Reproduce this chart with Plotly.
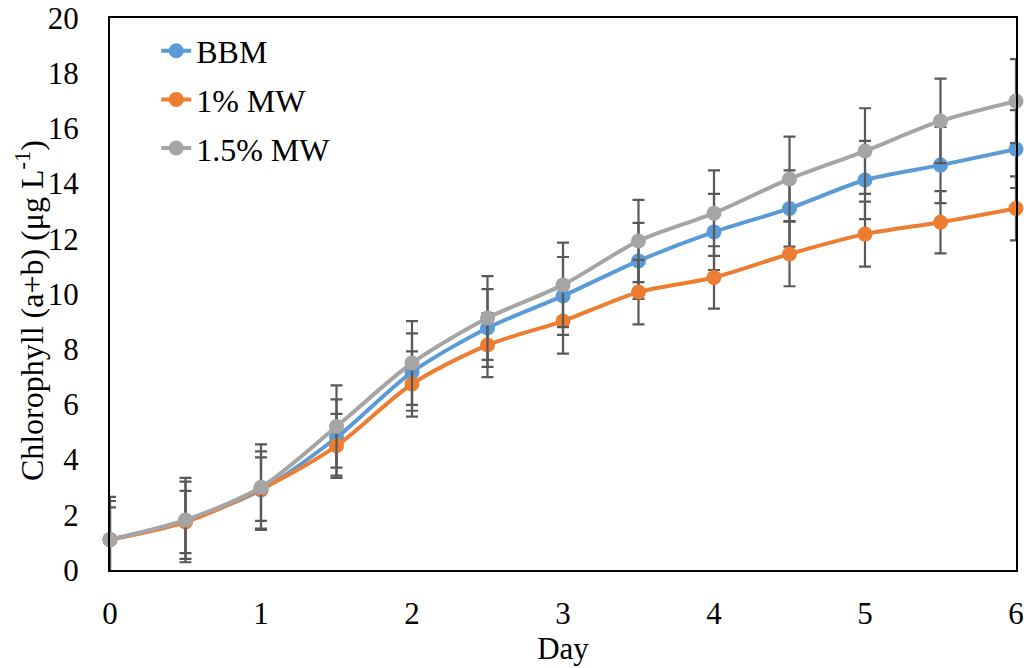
import plotly.graph_objects as go

days = [0, 0.5, 1, 1.5, 2, 2.5, 3, 3.5, 4, 4.5, 5, 5.5, 6]
bbm = [1.1, 1.8, 2.9, 4.8, 7.17, 8.77, 9.93, 11.2, 12.25, 13.1, 14.13, 14.67, 15.25]
mw1 = [1.1, 1.74, 2.93, 4.5, 6.74, 8.15, 9.02, 10.07, 10.6, 11.45, 12.17, 12.6, 13.1]
mw15 = [1.1, 1.81, 3.0, 5.2, 7.5, 9.13, 10.33, 11.92, 12.93, 14.17, 15.18, 16.27, 16.99]
err_bbm = [1.4, 1.4, 1.4, 1.38, 1.4, 1.41, 1.41, 1.38, 1.38, 1.38, 1.42, 1.38, 1.41]
err_mw1 = [1.17, 1.13, 1.15, 1.16, 1.18, 1.16, 1.18, 1.17, 1.13, 1.17, 1.18, 1.13, 1.16]
err_mw15 = [1.55, 1.53, 1.55, 1.49, 1.52, 1.52, 1.53, 1.49, 1.55, 1.53, 1.55, 1.53, 1.52]

names = ["BBM", "1% MW", "1.5% MW"]
colors = ["#5B9BD5", "#ED7D31", "#A5A5A5"]
series = [bbm, mw1, mw15]
errors = [err_bbm, err_mw1, err_mw15]
y_title = "Chlorophyll (a+b) (μg L<sup>-1</sup>)"
x_title = "Day"

FONT = "Liberation Serif, Times New Roman, serif"
fig = go.Figure()
for i, (n, c, s, e) in enumerate(zip(names, colors, series, errors)):
    fig.add_trace(go.Scatter(
        x=days, y=s, name=n, mode="lines+markers",
        line=dict(color=c, width=4, shape="spline", smoothing=0.8),
        marker=dict(color=c, size=15, symbol="circle"),
        error_y=dict(type="data", array=e, visible=True, color="#595959", thickness=2.2, width=6),
        legendgroup=f"g{i}", cliponaxis=False,
    ))

fig.update_layout(
    width=1026, height=668,
    margin=dict(l=110, r=10, t=18, b=98),
    plot_bgcolor="white", paper_bgcolor="white",
    font=dict(family=FONT, size=31, color="black"),
    showlegend=True,
    legend=dict(x=0.051, y=0.99, xanchor="left", yanchor="top", bgcolor="rgba(0,0,0,0)",
                font=dict(family=FONT, size=32), tracegroupgap=4),
    xaxis=dict(range=[0, 6], tickvals=[0, 1, 2, 3, 4, 5, 6], showgrid=False, zeroline=False,
               showline=True, linecolor="black", linewidth=2, mirror=True, ticks="",
               ticklabelstandoff=15, automargin=False,
               title=dict(text=x_title, font=dict(family=FONT, size=31), standoff=6)),
    yaxis=dict(range=[0, 20], dtick=2, showgrid=False, zeroline=False,
               showline=True, linecolor="black", linewidth=2, mirror=True, ticks="",
               ticklabelstandoff=23, automargin=False),
    annotations=[dict(text=y_title, textangle=-90, xref="paper", yref="paper",
                      x=-0.0883, y=0.469, xanchor="center", yanchor="middle",
                      showarrow=False, font=dict(family=FONT, size=32, color="black"))],
)

fig.write_html("out.html")
